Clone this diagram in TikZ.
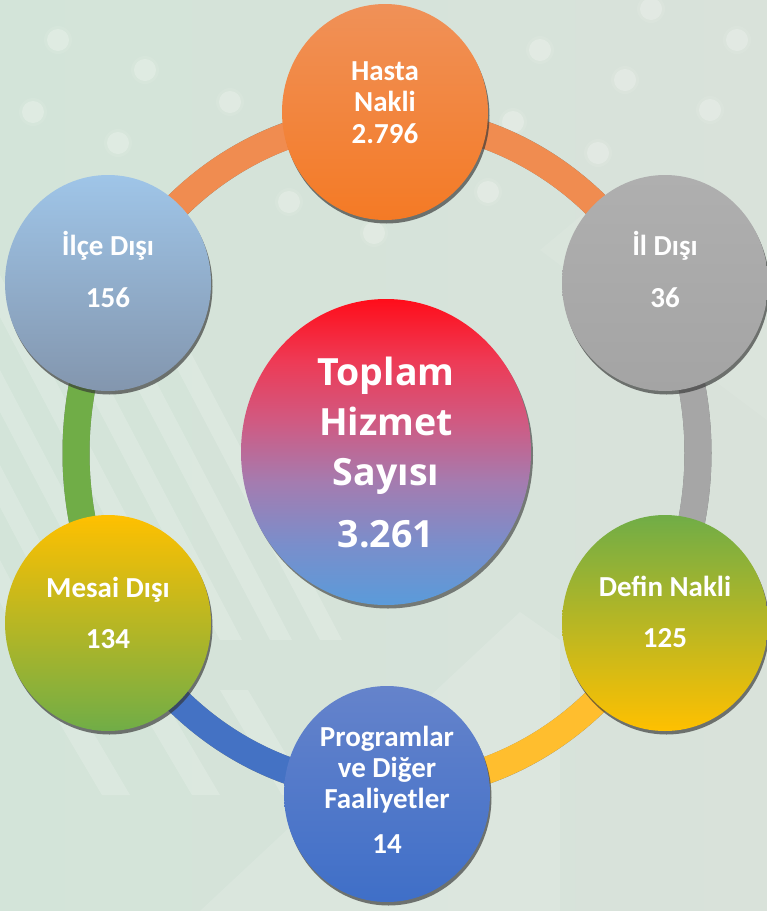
\documentclass[tikz,border=0pt]{standalone}
\usepackage{fontspec}
\setmainfont{Carlito}
\newfontfamily\cfont{Open Sans}
\usetikzlibrary{shapes.geometric,calc,shadows}

\definecolor{bgl}{HTML}{D3E4D9}
\definecolor{bgr}{HTML}{D9E2DA}
\definecolor{ringor}{HTML}{F08C50}
\definecolor{ringgr}{HTML}{A6A6A6}
\definecolor{ringye}{HTML}{FFBE2E}
\definecolor{ringbl}{HTML}{4472C4}
\definecolor{ringgn}{HTML}{70AD47}
\definecolor{hastaT}{HTML}{F09158}
\definecolor{hastaB}{HTML}{F47A25}
\definecolor{ilceT}{HTML}{9FC5E8}
\definecolor{ilceB}{HTML}{8396AE}
\definecolor{ilT}{HTML}{AFAFAF}
\definecolor{ilB}{HTML}{A4A4A4}
\definecolor{yel}{HTML}{FFC000}
\definecolor{grn}{HTML}{70AD47}
\definecolor{progT}{HTML}{6583CB}
\definecolor{progB}{HTML}{3F6FC8}
\definecolor{cb0}{HTML}{5A9BDA}
\definecolor{cb1}{HTML}{7A8ECB}
\definecolor{cb2}{HTML}{A47CB0}
\definecolor{cb3}{HTML}{D05A82}
\definecolor{cb4}{HTML}{EE3A55}
\definecolor{cb5}{HTML}{FF0D1A}
\pgfdeclareverticalshading{centershade}{100bp}{color(0bp)=(cb0); color(25bp)=(cb0); color(35bp)=(cb1); color(45bp)=(cb2); color(55bp)=(cb3); color(65bp)=(cb4); color(75bp)=(cb5); color(100bp)=(cb5)}

\begin{document}
\begin{tikzpicture}[x=1pt,y=-1pt,
  bubble/.style={ellipse, minimum width=206pt, minimum height=216pt, inner sep=0pt,
    drop shadow={shadow xshift=1.5pt, shadow yshift=-3.5pt, fill=black!80, opacity=0.65}},
  bigbubble/.style={ellipse, minimum width=290pt, minimum height=306pt, inner sep=0pt,
    drop shadow={shadow xshift=2pt, shadow yshift=-3.5pt, fill=black!80, opacity=0.6}},
  lbl/.style={text=white, font=\bfseries\fontsize{29}{31}\selectfont, anchor=base, inner sep=0pt},
  clbl/.style={text=white, font=\cfont\bfseries\fontsize{37.5}{40}\selectfont, anchor=base, inner sep=0pt},
  ringseg/.style={line width=27pt},
  ringshadow/.style={line width=27pt, draw=black!85, opacity=0.55},
  dot/.style={fill=white, opacity=0.22},
  band/.style={fill=white, opacity=0.18},
]
% background
\shade[left color=bgl, right color=bgr] (0,0) rectangle (767,911);
\useasboundingbox (0,0) rectangle (767,911);
\begin{scope}
\clip (0,0) rectangle (767,911);
% diagonal bands on the left
\foreach \x in {-180,-130,-80,-30,20,70,120} {
  \fill[band] (\x,260) -- (\x+22,260) -- (\x+22+200,640) -- (\x+200,640) -- cycle;
}
% short bands bottom left
\foreach \x in {40,130,220} {
  \fill[band] (\x,690) -- (\x+28,690) -- (\x+90,795) -- (\x+62,795) -- cycle;
}
% faint chevron bottom middle
\fill[white, opacity=0.13] (200,911) -- (520,612) -- (560,640) -- (560,911) -- cycle;
\fill[white, opacity=0.08] (540,250) -- (600,200) -- (767,330) -- (767,420) -- cycle;
% dots
\foreach \p in {(58,40),(145,70),(33,112),(118,143),(230,102),(289,202),(374,233),
                (540,50),(625,80),(513,122),(598,153),(488,192),(651,9),(737,40),(710,110)} {
  \fill[white, opacity=0.08] \p circle[radius=14];
  \fill[dot] \p circle[radius=11];
}
\end{scope}

% ring
\coordinate (C) at (387,453);
\coordinate (r210) at ($(C)+(210:311 and 335)$);
\coordinate (r330) at ($(C)+(330:311 and 335)$);
\coordinate (r30)  at ($(C)+(30:311 and 335)$);
\coordinate (r90)  at ($(C)+(90:311 and 335)$);
\coordinate (r150) at ($(C)+(150:311 and 335)$);
\begin{scope}[shift={(1.5,3)}]
\draw[ringshadow] (C) ellipse[x radius=311, y radius=335];
\end{scope}
\draw[ringseg, ringor] (r210) arc[start angle=210, end angle=330, x radius=311, y radius=335];
\draw[ringseg, ringgr] (r330) arc[start angle=330, end angle=390, x radius=311, y radius=335];
\draw[ringseg, ringye] (r30) arc[start angle=30, end angle=90, x radius=311, y radius=335];
\draw[ringseg, ringbl] (r90) arc[start angle=90, end angle=150, x radius=311, y radius=335];
\draw[ringseg, ringgn] (r150) arc[start angle=150, end angle=210, x radius=311, y radius=335];

% bubbles
\node[bigbubble, shading=centershade] (center) at (386,452) {};
\node[bubble, top color=hastaT, bottom color=hastaB] (hasta) at (385,112) {};
\node[bubble, top color=ilT, bottom color=ilB] (il) at (665,283) {};
\node[bubble, top color=grn, bottom color=yel] (defin) at (665,623) {};
\node[bubble, top color=progT, bottom color=progB] (prog) at (387,794) {};
\node[bubble, top color=yel, bottom color=grn] (mesai) at (108,623) {};
\node[bubble, top color=ilceT, bottom color=ilceB] (ilce) at (108,283) {};

% labels
\node[clbl] (c1) at (386,385) {Toplam};
\node[clbl] (c2) at (386,435) {Hizmet};
\node[clbl] (c3) at (386,485) {Sayısı};
\node[clbl] (c4) at (386,547) {3.261};

\node[lbl] (h1) at (385,80) {Hasta};
\node[lbl] (h2) at (385,111) {Nakli};
\node[lbl] (h3) at (385,143) {2.796};

\node[lbl] (i1) at (665,255) {İl Dışı};
\node[lbl] (i2) at (665,307) {36};

\node[lbl] (d1) at (665,596) {Defin Nakli};
\node[lbl] (d2) at (665,647) {125};

\node[lbl] (p1) at (387,746) {Programlar};
\node[lbl] (p2) at (387,777) {ve Diğer};
\node[lbl] (p3) at (387,808) {Faaliyetler};
\node[lbl] (p4) at (387,853) {14};

\node[lbl] (m1) at (108,597) {Mesai Dışı};
\node[lbl] (m2) at (108,648) {134};

\node[lbl] (e1) at (108,255) {İlçe Dışı};
\node[lbl] (e2) at (108,307) {156};
\end{tikzpicture}
\end{document}
